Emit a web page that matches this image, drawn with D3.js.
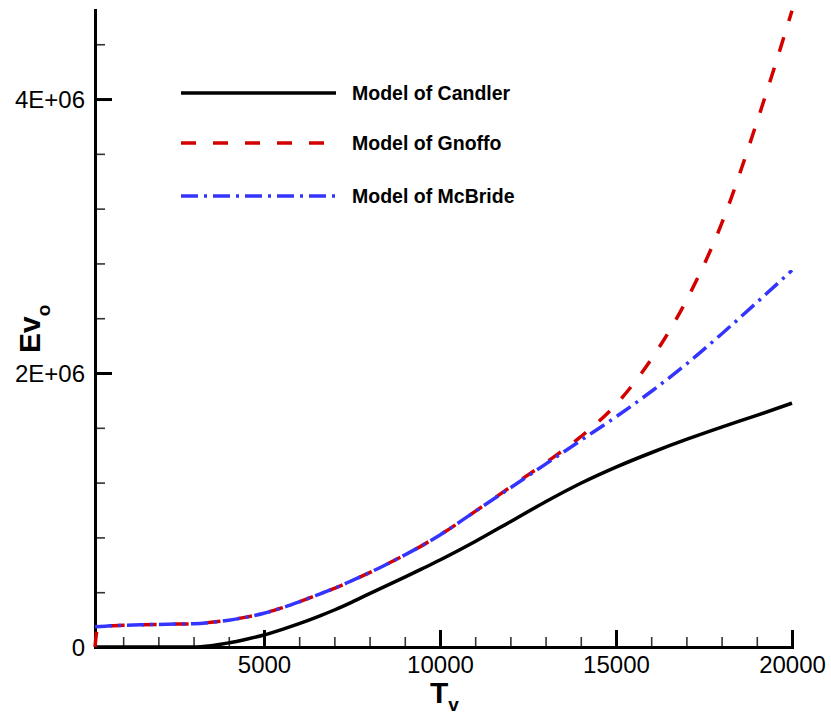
<!DOCTYPE html>
<html><head><meta charset="utf-8">
<script src="https://cdn.jsdelivr.net/npm/d3@7"></script>
<style>
body{margin:0;background:#fff}
svg{display:block;font-family:"Liberation Sans",Arial,Helvetica,sans-serif}
</style>
</head><body>
<svg id="chart" width="831" height="715"></svg>
<script>
// ---- data ----
const tempShared = [200,500,1000,1500,2000,2500,3000,3500,4000,4500,5000,5500,6000,6500,7000,7500,8000,8500,9000,9500,10000,11000,12000,13000,14000,15000,16000,17000,18000,19000,20000];
const candler   = [0,0,0,0,0,0,0,10e3,30e3,57e3,88e3,127e3,170e3,218e3,270e3,328e3,390e3,450e3,510e3,572e3,635e3,770e3,915e3,1060e3,1195e3,1313e3,1418e3,1515e3,1605e3,1691e3,1780e3];
const mcbride   = [148e3,152e3,158e3,162e3,165e3,167e3,170e3,180e3,196e3,218e3,246e3,285e3,330e3,378e3,428e3,485e3,543e3,606e3,672e3,742e3,818e3,990e3,1162e3,1335e3,1508e3,1680e3,1865e3,2065e3,2285e3,2515e3,2750e3];
const gnoffoTemp = [200,280,500,1000,1500,2000,2500,3000,3500,4000,4500,5000,5500,6000,6500,7000,7500,8000,8500,9000,9500,10000,11000,12000,13000,14000,15000,16000,17000,18000,19000,19500,20000];
const gnoffo     = [0,145e3,152e3,158e3,162e3,165e3,167e3,170e3,180e3,196e3,218e3,246e3,285e3,330e3,378e3,428e3,485e3,543e3,606e3,672e3,742e3,818e3,990e3,1168e3,1345e3,1535e3,1770e3,2100e3,2530e3,3090e3,3830e3,4230e3,4645e3];

const seriesNames = ["Model of Candler","Model of Gnoffo","Model of McBride"];
const xMajorTicks = [5000,10000,15000,20000];
const xMinorTicks = [1000,2000,3000,4000,6000,7000,8000,9000,11000,12000,13000,14000,16000,17000,18000,19000];
const yMajorTicks = [0,2e6,4e6];
const yTickLabels = ["0","2E+06","4E+06"];
const yMinorTicks = [4e5,8e5,12e5,16e5,24e5,28e5,32e5,36e5,44e5];

// ---- chart ----
const svg = d3.select("#chart");
const x = d3.scaleLinear().domain([200,20000]).range([95,792]);
const y = d3.scaleLinear().domain([0,4.65e6]).range([647,10]);

// minor ticks
const gxm = svg.append("g").attr("transform","translate(0,647)")
  .call(d3.axisBottom(x).tickValues(xMinorTicks).tickSize(-10).tickFormat(""));
gxm.select(".domain").remove();
gxm.selectAll(".tick line").attr("stroke","#333").attr("stroke-width",1.6);

const gym = svg.append("g").attr("transform","translate(95,0)")
  .call(d3.axisLeft(y).tickValues(yMinorTicks).tickSize(-10).tickFormat(""));
gym.select(".domain").remove();
gym.selectAll(".tick line").attr("stroke","#333").attr("stroke-width",1.6);

// major axes
const gx = svg.append("g").attr("transform","translate(0,647)")
  .call(d3.axisBottom(x).tickValues(xMajorTicks).tickSize(-17).tickSizeOuter(0).tickPadding(9).tickFormat(d3.format("d")));
gx.select(".domain").attr("stroke","#000").attr("stroke-width",3).attr("stroke-linecap","square");
gx.selectAll(".tick line").attr("stroke","#000").attr("stroke-width",3);
gx.selectAll(".tick text").attr("font-size",24).attr("font-family","Liberation Sans, Arial, sans-serif").attr("fill","#000");

const gy = svg.append("g").attr("transform","translate(95,0)")
  .call(d3.axisLeft(y).tickValues(yMajorTicks).tickSize(-17).tickSizeOuter(0).tickPadding(10)
        .tickFormat((d,i)=>yTickLabels[i]));
gy.select(".domain").attr("stroke","#000").attr("stroke-width",3).attr("stroke-linecap","square");
gy.selectAll(".tick line").attr("stroke","#000").attr("stroke-width",3);
gy.selectAll(".tick text").attr("font-size",24).attr("font-family","Liberation Sans, Arial, sans-serif").attr("fill","#000").attr("dy","0.36em");

// axis titles
const xt = svg.append("text").attr("x",430).attr("y",703)
  .attr("font-size",30).attr("font-weight","bold").attr("fill","#000");
xt.append("tspan").text("T");
xt.append("tspan").attr("font-size",19).attr("dy",8).text("v");

const yt = svg.append("text").attr("transform","translate(40,353) rotate(-90)")
  .attr("font-size",30).attr("font-weight","bold").attr("fill","#000");
yt.append("tspan").text("Ev");
yt.append("tspan").attr("font-size",19).attr("dy",10).text("o");

// curves
const line = d3.line().x(d=>x(d[0])).y(d=>y(d[1])).curve(d3.curveMonotoneX);
const styles = [
  {color:"#000000", dash:null},
  {color:"#d40000", dash:"15,17"},
  {color:"#3434ff", dash:"17,6,3,6"}
];
const datasets = [
  tempShared.map((t,i)=>[t,candler[i]]),
  gnoffoTemp.map((t,i)=>[t,gnoffo[i]]),
  tempShared.map((t,i)=>[t,mcbride[i]])
];
datasets.forEach((ds,i)=>{
  svg.append("path").datum(ds).attr("d",line)
    .attr("fill","none").attr("stroke",styles[i].color).attr("stroke-width",3.5)
    .attr("stroke-dasharray",styles[i].dash);
});

// legend
const legY = [93,143,196];
seriesNames.forEach((name,i)=>{
  svg.append("line").attr("x1",181).attr("x2",336).attr("y1",legY[i]).attr("y2",legY[i])
    .attr("stroke",styles[i].color).attr("stroke-width",3.5).attr("stroke-dasharray",styles[i].dash);
  svg.append("text").attr("x",352).attr("y",legY[i]+7).attr("font-size",19.5).attr("font-weight","bold")
    .attr("fill","#000").text(name);
});
</script>
</body></html>
